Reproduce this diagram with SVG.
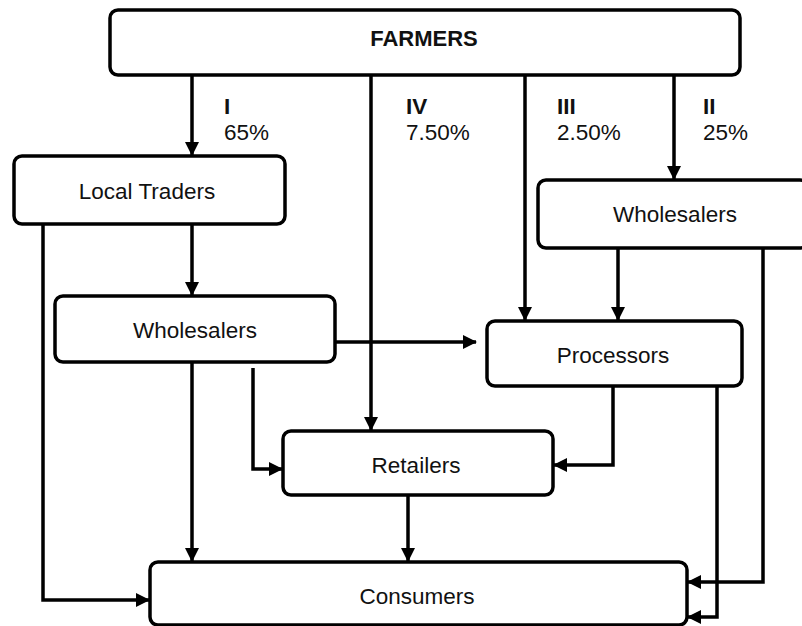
<svg xmlns="http://www.w3.org/2000/svg" width="802" height="626" viewBox="0 0 802 626">
<defs>
<style>
.box{fill:#fff;stroke:#000;stroke-width:3.5}
.t{font-family:"Liberation Sans",Arial,sans-serif;font-size:22.5px;fill:#111;text-anchor:middle}
.b{font-weight:bold;font-size:22px}
.lb{font-family:"Liberation Sans",Arial,sans-serif;font-size:22.5px;fill:#111}
.c{fill:none;stroke:#000;stroke-width:3.5;marker-end:url(#ah)}
</style>
<marker id="ah" markerUnits="userSpaceOnUse" markerWidth="14" markerHeight="14" refX="13" refY="7" orient="auto">
<path d="M0,0 L14,7 L0,14 z" fill="#000"/>
</marker>
</defs>
<rect width="802" height="626" fill="#fff"/>
<g id="connectors">
<path class="c" d="M192,75 V155"/>
<path class="c" d="M371,75 V430"/>
<path class="c" d="M525,75 V320"/>
<path class="c" d="M674,75 V179"/>
<path class="c" d="M192,224 V295"/>
<path class="c" d="M43,224 V600 H149"/>
<path class="c" d="M335,342 H476"/>
<path class="c" d="M192,362 V561"/>
<path class="c" d="M253,368 V469 H282"/>
<path class="c" d="M618,248 V320"/>
<path class="c" d="M763,248 V582 H688"/>
<path class="c" d="M613,386 V465 H554"/>
<path class="c" d="M717,386 V617 H688"/>
<path class="c" d="M408,495 V561"/>
</g>
<g id="farmers">
<rect class="box" x="110" y="10" width="630" height="65" rx="8"/>
<text class="t b" x="424" y="46">FARMERS</text>
</g>
<g id="labels">
<text class="lb b" x="224" y="114">I</text>
<text class="lb" x="224" y="140">65%</text>
<text class="lb b" x="406" y="114">IV</text>
<text class="lb" x="406" y="140">7.50%</text>
<text class="lb b" x="557" y="114">III</text>
<text class="lb" x="557" y="140">2.50%</text>
<text class="lb b" x="703" y="114">II</text>
<text class="lb" x="703" y="140">25%</text>
</g>
<g id="local-traders">
<rect class="box" x="14" y="156" width="271" height="68" rx="8"/>
<text class="t" x="147" y="199">Local Traders</text>
</g>
<g id="wholesalers-left">
<rect class="box" x="55" y="296" width="280" height="66" rx="8"/>
<text class="t" x="195" y="338">Wholesalers</text>
</g>
<g id="wholesalers-right">
<rect class="box" x="538" y="180" width="270" height="68" rx="8"/>
<text class="t" x="675" y="222">Wholesalers</text>
</g>
<g id="processors">
<rect class="box" x="487" y="321" width="255" height="65" rx="8"/>
<text class="t" x="613" y="363">Processors</text>
</g>
<g id="retailers">
<rect class="box" x="283" y="431" width="270" height="64" rx="8"/>
<text class="t" x="416" y="473">Retailers</text>
</g>
<g id="consumers">
<rect class="box" x="150" y="562" width="537" height="63" rx="8"/>
<text class="t" x="417" y="604">Consumers</text>
</g>
</svg>
